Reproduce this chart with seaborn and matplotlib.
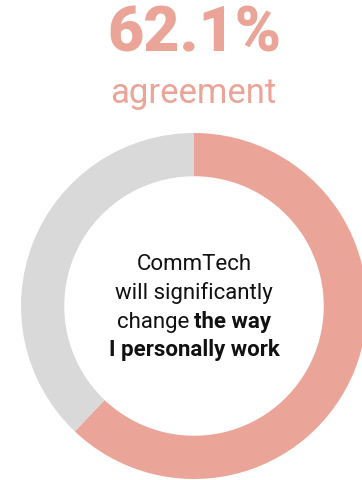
import seaborn as sns
import matplotlib.pyplot as plt
from matplotlib.offsetbox import TextArea, HPacker, AnnotationBbox

# data
labels = ['Agree', 'Other']
values = [62.1, 37.9]
colors = ['#EBA598', '#D9D9D9']
headline = '62.1%'
subhead = 'agreement'

sns.set_style('white')
plt.rcParams['font.family'] = ['Roboto', 'DejaVu Sans']

fig = plt.figure(figsize=(3.62, 4.8), dpi=100)

# donut axes: centre at (194, 306) px from top-left, radius 173 px
W, H = 362, 480
r = 173
cx, cy = 194, H - 306
ax = fig.add_axes([(cx - r) / W, (cy - r) / H, 2 * r / W, 2 * r / H])
ax.pie(values, colors=colors, startangle=90, counterclock=False, radius=1,
       wedgeprops=dict(width=0.25, edgecolor='none'))
ax.set_xlim(-1, 1)
ax.set_ylim(-1, 1)
ax.set_aspect('equal')
ax.axis('off')

# headline text
fig.text(194 / W, 1 - 34 / H, headline, ha='center', va='center',
         fontsize=45, fontweight='heavy', color='#EBA598')
fig.text(193 / W, 1 - 93 / H, subhead, ha='center', va='center',
         fontsize=25, color='#EBA598')

# centre label
fs = 16
ax.text(0, 0.24, 'CommTech', ha='center', va='center', fontsize=fs, color='#111111')
ax.text(0, 0.075, 'will significantly', ha='center', va='center', fontsize=fs, color='#111111')
row = HPacker(children=[
    TextArea('change ', textprops=dict(fontsize=fs, color='#111111')),
    TextArea('the way', textprops=dict(fontsize=fs, color='#111111', fontweight='bold')),
], align='baseline', pad=0, sep=0)
ab = AnnotationBbox(row, (0, -0.09), frameon=False, box_alignment=(0.5, 0.5))
ax.add_artist(ab)
ax.text(0, -0.255, 'I personally work', ha='center', va='center', fontsize=fs,
        fontweight='bold', color='#111111')

fig.savefig('out.png', dpi=100)
